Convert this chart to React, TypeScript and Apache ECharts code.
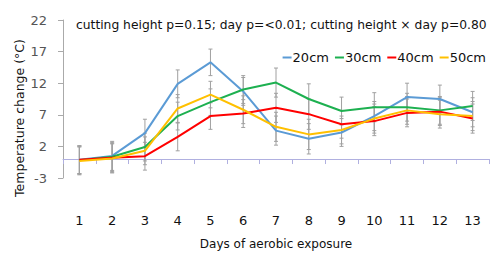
import React, { useEffect, useRef } from "react";
import * as echarts from "echarts";

const days = ["1", "2", "3", "4", "5", "6", "7", "8", "9", "10", "11", "12", "13"];
const seriesNames = ["20cm", "30cm", "40cm", "50cm"];
const colors = ["#5b9bd5", "#1db050", "#ff0000", "#ffc000"];
const cm20 = [-0.1, 0.5, 4.1, 11.9, 15.3, 10.7, 4.5, 3.2, 4.2, 6.8, 9.8, 9.5, 7.4];
const cm30 = [-0.2, 0.35, 1.9, 6.8, 9.0, 11.0, 12.1, 9.5, 7.6, 8.2, 8.2, 7.7, 8.4];
const cm40 = [-0.1, 0.2, 0.45, 3.5, 6.8, 7.2, 8.1, 7.1, 5.5, 6.0, 7.3, 7.5, 6.4];
const cm50 = [-0.3, 0.1, 1.3, 8.0, 10.2, 7.8, 5.1, 3.9, 4.6, 6.4, 7.7, 7.1, 6.8];
const errors = [2.2, 2.3, 2.2, 2.2, 2.1, 2.2, 2.3, 2.4, 2.2, 2.3, 2.2, 2.2, 2.3];
const titleText = "cutting height p=0.15; day p=<0.01; cutting height × day p=0.80";
const yAxisName = "Temperature change (°C)";
const FONT = "DejaVu Sans";

export default function App() {
  const ref = useRef<HTMLDivElement>(null);
  useEffect(() => {
    if (!ref.current) return;
    const chart = echarts.init(ref.current, undefined, { renderer: "svg" });
    const all = [cm20, cm30, cm40, cm50];
    const errSeries = all.map((vals, si) => ({
      type: "custom",
      name: seriesNames[si] + " err",
      z: 1,
      silent: true,
      data: vals.map((v, i) => [i, v, errors[i]]),
      encode: { x: 0, y: 1 },
      renderItem: (params: any, api: any) => {
        const i = api.value(0);
        const v = api.value(1);
        const e = api.value(2);
        const top = api.coord([i, v + e]);
        const bot = api.coord([i, v - e]);
        const style = { stroke: "#a0a0a0", lineWidth: 1 };
        return {
          type: "group",
          children: [
            { type: "line", shape: { x1: top[0], y1: top[1], x2: bot[0], y2: bot[1] }, style },
            { type: "line", shape: { x1: top[0] - 2, y1: top[1], x2: top[0] + 2, y2: top[1] }, style },
            { type: "line", shape: { x1: bot[0] - 2, y1: bot[1], x2: bot[0] + 2, y2: bot[1] }, style },
          ],
        };
      },
    }));
    const lineSeries = all.map((vals, si) => ({
      type: "line",
      name: seriesNames[si],
      data: vals,
      z: 3,
      symbol: "none",
      lineStyle: { color: colors[si], width: 2 },
      itemStyle: { color: colors[si] },
    }));
    chart.setOption({
      animation: false,
      title: {
        text: titleText,
        left: 71,
        top: 14,
        textStyle: { fontFamily: FONT, fontSize: 12.3, fontWeight: "normal", color: "#111" },
      },
      legend: {
        data: seriesNames,
        right: 3,
        top: 46,
        icon: "rect",
        itemWidth: 9,
        itemHeight: 2,
        itemGap: 6,
        textStyle: { fontFamily: FONT, fontSize: 13, color: "#111", padding: [0, 0, 0, -4] },
      },
      graphic: [
        {
          type: "text",
          x: 19,
          y: 118,
          rotation: Math.PI / 2,
          style: {
            text: yAxisName,
            fontFamily: FONT,
            fontSize: 12.5,
            fill: "#111",
            align: "center",
            verticalAlign: "middle",
          },
        },
      ],
      grid: { left: 63, right: 5, top: 20, bottom: 42.5 },
      xAxis: {
        type: "category",
        data: days,
        name: "Days of aerobic exposure",
        nameLocation: "middle",
        nameGap: 60,
        nameTextStyle: { fontFamily: FONT, fontSize: 12, color: "#111" },
        axisLine: { onZero: true, lineStyle: { color: "#b0b0e0", width: 1 } },
        axisTick: { show: true, length: 5, lineStyle: { color: "#b0b0e0" } },
        axisLabel: { margin: 36, fontFamily: FONT, fontSize: 13, color: "#111" },
      },
      yAxis: {
        type: "value",
        min: -3,
        max: 22,
        interval: 5,
        axisLine: { show: true, lineStyle: { color: "#aaaaaa" } },
        axisTick: { show: true, length: 5, lineStyle: { color: "#aaaaaa" } },
        axisLabel: { margin: 16, fontFamily: FONT, fontSize: 13, color: "#555" },
        splitLine: { show: false },
      },
      series: [...errSeries, ...lineSeries],
    });
    return () => chart.dispose();
  }, []);
  return <div ref={ref} style={{ width: 494, height: 255, position: "absolute", left: 0, top: 0 }} />;
}
